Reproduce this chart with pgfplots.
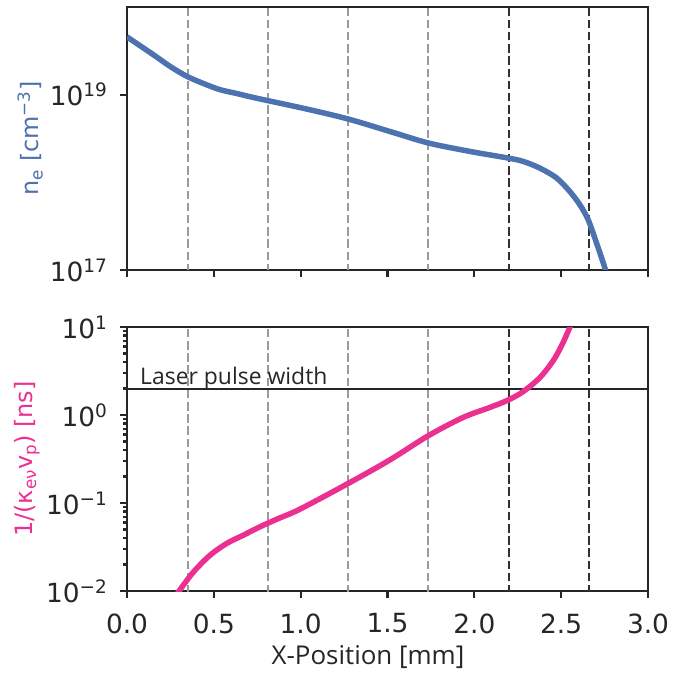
\documentclass[border=0pt]{standalone}
\usepackage{fontspec}
\setmainfont{DejaVu Sans}
\newfontfamily\opensans{Open Sans}
\usepackage{pgfplots}
\pgfplotsset{compat=1.18}
\definecolor{txt}{HTML}{262626}
\definecolor{cblue}{HTML}{4C72B0}
\definecolor{cpink}{RGB}{236,48,145}
\definecolor{dgray}{HTML}{9A9A9A}
\definecolor{dblack}{HTML}{303030}
\pgfplotsset{
  myax/.style={
    scale only axis, width=521bp,
    xmin=0, xmax=3, clip mode=individual,
    axis line style={txt, line width=2.5bp},
    every tick/.style={txt, line width=2.2bp},
    tick align=outside, xtick pos=bottom, ytick pos=left,
    major tick length=7bp, minor tick length=4bp,
    xtick={0,0.5,1,1.5,2,2.5,3},
    tick label style={font=\fontsize{26.5}{31}\selectfont, text=txt},
    xticklabel style={yshift=-12bp, /pgf/number format/.cd, fixed, fixed zerofill, precision=1, assume math mode=true},
    yticklabel style={xshift=-9bp},
    ylabel style={anchor=center, font=\fontsize{24}{28}\selectfont},
  },
}
\tikzset{
  gd/.style={dgray, line width=2.2bp, dash pattern=on 8.5bp off 3.7bp},
  bd/.style={dblack, line width=2.2bp, dash pattern=on 8.5bp off 3.7bp},
}
\begin{document}
\begin{tikzpicture}
\path[use as bounding box] (0bp,0bp) rectangle (695bp,675bp);
% ---------- top axis ----------
\begin{axis}[ymode=log, myax, at={(127bp,405bp)}, anchor=south west, height=263bp,
  ymin=1e17, ymax=1e20, ytick={1e17,1e19}, yminorticks=false,
  yticklabels={10\textsuperscript{17},10\textsuperscript{19}},
  xticklabels={},
  ylabel={n\textsubscript{e} [cm\textsuperscript{−3}]},
  ylabel style={at={(axis description cs:-0.186,0.5)}, text=cblue},
]
\addplot[gd, forget plot] coordinates {(0.351,1e16) (0.351,1e21)};
\addplot[gd, forget plot] coordinates {(0.812,1e16) (0.812,1e21)};
\addplot[gd, forget plot] coordinates {(1.273,1e16) (1.273,1e21)};
\addplot[gd, forget plot] coordinates {(1.733,1e16) (1.733,1e21)};
\addplot[bd, forget plot] coordinates {(2.199,1e16) (2.199,1e21)};
\addplot[bd, forget plot] coordinates {(2.660,1e16) (2.660,1e21)};
\addplot[cblue, line width=5.5bp, smooth, tension=0.5] coordinates {
 (0.0,4.56e19) (0.151,2.86e19) (0.248,2.10e19) (0.344,1.62e19) (0.44,1.34e19)
 (0.535,1.14e19) (0.632,1.03e19) (0.747,9.1e18) (1.035,6.85e18) (1.274,5.27e18)
 (1.514,3.80e18) (1.735,2.81e18) (1.975,2.25e18) (2.195,1.89e18) (2.282,1.73e18)
 (2.378,1.45e18) (2.474,1.12e18) (2.55,7.85e17) (2.608,5.53e17) (2.656,3.72e17)
 (2.704,2.02e17) (2.752,1.05e17) (2.77,7.5e16)};
\end{axis}
% ---------- bottom axis ----------
\begin{axis}[ymode=log, myax, at={(127bp,84bp)}, anchor=south west, height=264bp,
  ymin=1e-2, ymax=1e1, ytick={1e-2,1e-1,1,1e1},
  yticklabels={10\textsuperscript{−2},10\textsuperscript{−1},10\textsuperscript{0},10\textsuperscript{1}},
  ylabel={1/(κ\textsubscript{eν}v\textsubscript{p}) [ns]},
  ylabel style={at={(axis description cs:-0.192,0.5)}, text=cpink},
]
\addplot[gd, forget plot] coordinates {(0.351,1e-3) (0.351,1e2)};
\addplot[gd, forget plot] coordinates {(0.812,1e-3) (0.812,1e2)};
\addplot[gd, forget plot] coordinates {(1.273,1e-3) (1.273,1e2)};
\addplot[gd, forget plot] coordinates {(1.733,1e-3) (1.733,1e2)};
\addplot[bd, forget plot] coordinates {(2.199,1e-3) (2.199,1e2)};
\addplot[bd, forget plot] coordinates {(2.660,1e-3) (2.660,1e2)};
\addplot[txt, line width=2.5bp, forget plot] coordinates {(0,1.98) (3,1.98)};
\addplot[cpink, line width=5.5bp, smooth, tension=0.5] coordinates {
 (0.28,8.6e-3) (0.30,0.01) (0.382,0.0164) (0.478,0.0255) (0.574,0.0347)
 (0.67,0.0431) (0.766,0.0537) (0.871,0.0665) (0.996,0.0851) (1.274,0.167)
 (1.514,0.309) (1.735,0.582) (1.936,0.940) (2.09,1.22) (2.195,1.48)
 (2.282,1.85) (2.378,2.67) (2.454,4.14) (2.502,6.12) (2.55,9.9) (2.57,12.5)};
\node[anchor=base west, font=\opensans\fontsize{23}{27}\selectfont, text=txt, inner sep=0pt]
  at (axis cs:0.075,2.25) {Laser pulse width};
\node[font=\opensans\fontsize{26}{31}\selectfont, text=txt]
  at (axis description cs:0.4626,-0.25) {X-Position [mm]};
\end{axis}
\end{tikzpicture}
\end{document}
